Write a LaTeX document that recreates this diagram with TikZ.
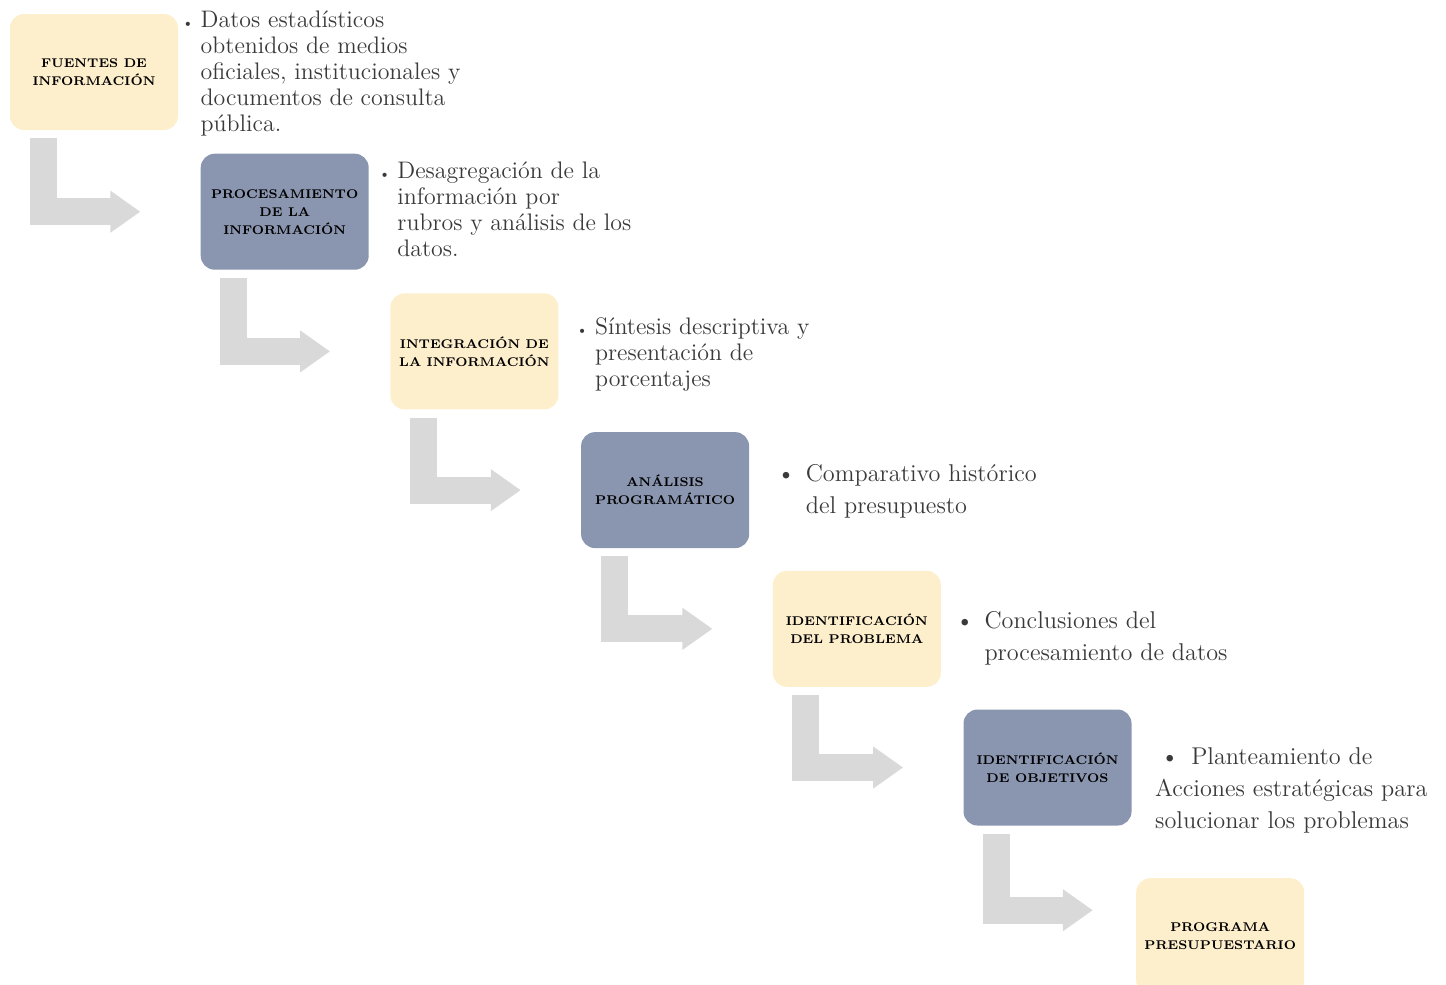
\documentclass[tikz,border=0pt]{standalone}
\usetikzlibrary{positioning,arrows.meta}

\definecolor{crema}{RGB}{254,239,204}
\definecolor{pizarra}{RGB}{138,149,175}
\definecolor{grisflecha}{RGB}{217,217,217}
\definecolor{gristexto}{RGB}{58,58,58}

\begin{document}
\begin{tikzpicture}[paso/.style = {rounded corners=0.28cm, minimum width=3.36cm, minimum height=2.32cm, align=center, text=black, font=\fontsize{7.2}{10.2}\selectfont\bfseries},
    amarillo/.style = {paso, fill=crema},
    azul/.style = {paso, fill=pizarra},
    desc/.style = {anchor=north west, inner sep=0pt, align=left, text=gristexto, font=\fontsize{13.6}{14.8}\selectfont},
    descgrande/.style = {desc, font=\fontsize{13.8}{18.2}\selectfont},
    flecha/.style = {draw=grisflecha, line width=0.54cm, -{Triangle[length=0.6cm, width=0.8cm]}}]
        \useasboundingbox (0,0) rectangle (28.92,-19.68);
        \clip (0,0) rectangle (28.92,-19.68);
        % pasos
        \node[amarillo] (fuentes) at (1.88,-1.44) {FUENTES DE\\INFORMACIÓN};
        \node[azul] (proc) [below right=0.46cm and 0.44cm of fuentes] {PROCESAMIENTO\\DE LA\\INFORMACIÓN};
        \node[amarillo] (integ) [below right=0.46cm and 0.42cm of proc] {INTEGRACIÓN DE\\LA INFORMACIÓN};
        \node[azul] (analisis) [below right=0.44cm and 0.44cm of integ] {ANÁLISIS\\PROGRAMÁTICO};
        \node[amarillo] (problema) [below right=0.44cm and 0.46cm of analisis] {IDENTIFICACIÓN\\DEL PROBLEMA};
        \node[azul] (objetivos) [below right=0.44cm and 0.44cm of problema] {IDENTIFICACIÓN\\DE OBJETIVOS};
        \node[amarillo] (programa) [below right=1.04cm and 0.08cm of objetivos] {PROGRAMA\\PRESUPUESTARIO};
        % flechas
        \foreach \a/\b/\dx/\dy in {fuentes/proc/-1.2/0, proc/integ/-1.2/0, integ/analisis/-1.2/0, analisis/problema/-1.2/0, problema/objetivos/-1.2/0, objetivos/programa/-0.86/0.52}
            \draw[flecha] ([xshift=0.67cm, yshift=-0.16cm]\a.south west) |- ([xshift=\dx cm, yshift=\dy cm]\b.west);
        % descripciones
        \node[desc] (d1) at ([xshift=0.44cm, yshift=0.06cm]fuentes.north east) {\llap{{\fontsize{8}{8}\selectfont\textbullet}\hspace{4pt}}Datos estadísticos\\obtenidos de medios\\oficiales, institucionales y\\documentos de consulta\\pública.};
        \node[desc] (d2) at ([xshift=0.56cm, yshift=-0.16cm]proc.north east) {\llap{{\fontsize{8}{8}\selectfont\textbullet}\hspace{4pt}}Desagregación de la\\información por\\rubros y análisis de los\\datos.};
        \node[desc] (d3) at ([xshift=0.72cm, yshift=-0.48cm]integ.north east) {\llap{{\fontsize{8}{8}\selectfont\textbullet}\hspace{4pt}}Síntesis descriptiva y\\presentación de\\porcentajes};
        \node[descgrande] (d4) at ([xshift=1.12cm, yshift=-0.64cm]analisis.north east) {\llap{\textbullet\hspace{6pt}}Comparativo histórico\\del presupuesto};
        \node[descgrande] (d5) at ([xshift=0.86cm, yshift=-0.82cm]problema.north east) {\llap{\textbullet\hspace{6pt}}Conclusiones del\\procesamiento de datos};
        \node[descgrande] (d6) at ([xshift=0.46cm, yshift=-0.76cm]objetivos.north east) {\hspace{3pt}\textbullet\hspace{7pt}Planteamiento de\\Acciones estratégicas para\\solucionar los problemas};
    \end{tikzpicture}
\end{document}
